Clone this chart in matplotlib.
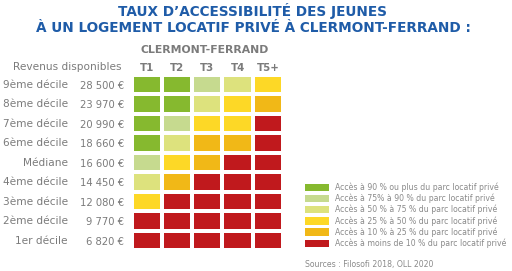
import numpy as np
import matplotlib

matplotlib.use("Agg")
import matplotlib.pyplot as plt
from matplotlib.colors import ListedColormap
from matplotlib.patches import Patch

plt.rcParams["font.family"] = ["DejaVu Sans"]

BLUE = "#1f5ca8"
GREY = "#7b7b7b"

deciles = ["9ème décile", "8ème décile", "7ème décile", "6ème décile", "Médiane",
           "4ème décile", "3ème décile", "2ème décile", "1er décile"]
revenus = ["28 500 €", "23 970 €", "20 990 €", "18 660 €", "16 600 €",
           "14 450 €", "12 080 €", "9 770 €", "6 820 €"]
logements = ["T1", "T2", "T3", "T4", "T5+"]

# 0 = 90 % ou plus ... 5 = moins de 10 %
niveaux = [
    [0, 0, 1, 2, 3],
    [0, 0, 2, 3, 4],
    [0, 1, 3, 3, 5],
    [0, 2, 4, 4, 5],
    [1, 3, 4, 5, 5],
    [2, 4, 5, 5, 5],
    [3, 5, 5, 5, 5],
    [5, 5, 5, 5, 5],
    [5, 5, 5, 5, 5],
]

couleurs = ["#86b92f", "#c6da8f", "#dde27d", "#fdd826", "#f1b817", "#c0191d"]
legende = [
    "Accès à 90 % ou plus du parc locatif privé",
    "Accès à 75% à 90 % du parc locatif privé",
    "Accès à 50 % à 75 % du parc locatif privé",
    "Accès à 25 % à 50 % du parc locatif privé",
    "Accès à 10 % à 25 % du parc locatif privé",
    "Accès à moins de 10 % du parc locatif privé",
]

W, H = 512, 271
fig = plt.figure(figsize=(W / 100, H / 100), dpi=100)

fig.text(253 / W, 1 - 11 / H, "TAUX D’ACCESSIBILITÉ DES JEUNES", ha="center", va="center",
         color=BLUE, fontsize=9.8, fontweight="bold")
fig.text(253 / W, 1 - 28 / H, "À UN LOGEMENT LOCATIF PRIVÉ À CLERMONT-FERRAND :", ha="center",
         va="center", color=BLUE, fontsize=9.8, fontweight="bold")

# heatmap
left, top, right, bottom = 131.5, 74.8, 283, 250.3
ax = fig.add_axes([left / W, 1 - bottom / H, (right - left) / W, (bottom - top) / H])
cmap = ListedColormap(couleurs)
ax.pcolormesh(np.array(niveaux), cmap=cmap, vmin=-0.5, vmax=5.5,
              edgecolors="white", linewidth=1.6)
ax.set_xlim(0, len(logements))
ax.set_ylim(len(deciles), 0)
for s in ax.spines.values():
    s.set_visible(False)

ax.xaxis.tick_top()
ax.set_xticks(np.arange(len(logements)) + 0.5)
ax.set_xticklabels(logements, fontsize=7.4, fontweight="bold", color=GREY)
ax.set_yticks(np.arange(len(deciles)) + 0.5)
ax.set_yticklabels(revenus, fontsize=7.2, color=GREY)
ax.tick_params(length=0, pad=5.5)
ax.tick_params(axis="x", pad=1)

for i, d in enumerate(deciles):
    ax.text(-2.1, i + 0.5, d, ha="right", va="center", fontsize=7.6, color=GREY)

ax.text(-0.33, -0.38, "Revenus disponibles", ha="right", va="center", fontsize=7.6, color=GREY)
ax.text(2.4, -1.27, "CLERMONT-FERRAND", ha="center", va="center", fontsize=7.8,
        fontweight="bold", color=GREY)

handles = [Patch(facecolor=c, edgecolor="none") for c in couleurs]
fig.legend(handles, legende, loc="upper left", bbox_to_anchor=(300 / W, 1 - 177 / H),
           frameon=False, fontsize=5.6, labelcolor="#8a8a8a", handlelength=3.0,
           handleheight=1.1, labelspacing=0.22, handletextpad=0.75, borderpad=0.2)

fig.text(305 / W, 1 - 265 / H, "Sources : Filosofi 2018, OLL 2020", ha="left", va="center",
         fontsize=5.6, color="#8a8a8a")

fig.savefig("out.png", dpi=100)
